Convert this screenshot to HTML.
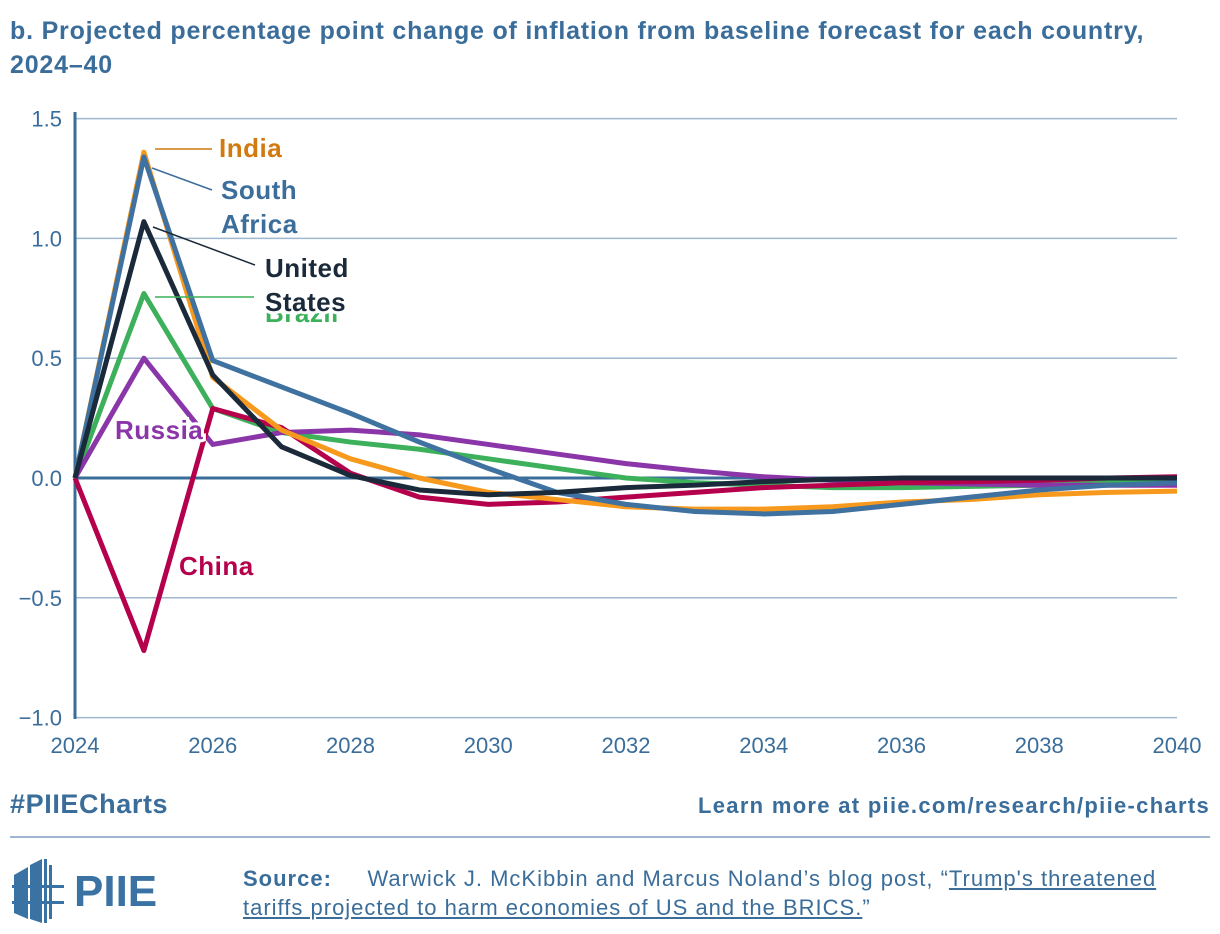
<!DOCTYPE html>
<html><head><meta charset="utf-8"><style>
body{margin:0;background:#fff;font-family:"Liberation Sans",sans-serif;}
#wrap{position:relative;width:1220px;height:934px;overflow:hidden;}
.t{position:absolute;color:#3a6d9a;white-space:nowrap;}
</style></head><body>
<div id="wrap">
<div class="t" style="left:10px;top:14px;font-size:25px;letter-spacing:0.8px;font-weight:bold;line-height:34px;">b. Projected percentage point change of inflation from baseline forecast for each country,<br>2024–40</div>
<svg id="chart" width="1220" height="780" style="position:absolute;left:0;top:0"></svg>
<div class="t" style="left:10px;top:789px;font-size:27px;letter-spacing:0.6px;font-weight:bold;">#PIIECharts</div>
<div class="t" style="right:10px;top:793px;font-size:22px;letter-spacing:1.3px;font-weight:bold;">Learn more at piie.com/research/piie-charts</div>
<div style="position:absolute;left:10px;top:836px;width:1200px;height:2px;background:#9fb8cf"></div>
<svg width="170" height="70" style="position:absolute;left:8px;top:855px">
<g fill="#3a73a3"><polygon points="6,20 20,12 20,64 6,58"/><polygon points="22,10 34,4 34,68 22,64"/><rect x="36" y="4" width="3" height="64"/><rect x="41" y="10" width="3" height="54"/>
<rect x="4" y="30" width="52" height="3"/><rect x="4" y="46" width="52" height="3"/></g>
<text x="66" y="51" font-size="44" font-weight="bold" fill="#3a73a3" font-family="Liberation Sans">PIIE</text></svg>
<div class="t" style="left:243px;top:864px;font-size:22px;letter-spacing:1px;line-height:29px;"><b>Source:</b>&nbsp;&nbsp;&nbsp;&nbsp; Warwick J. McKibbin and Marcus Noland’s blog post, “<u>Trump's threatened<br>tariffs projected to harm economies of US and the BRICS.</u>”</div>
</div>
<script>
const years=[2024,2025,2026,2027,2028,2029,2030,2031,2032,2033,2034,2035,2036,2037,2038,2039,2040];
const yTicks=[1.5,1.0,0.5,0.0,-0.5,-1.0];
const yTickLabels=["1.5","1.0","0.5","0.0","−0.5","−1.0"];
const xTicks=[2024,2026,2028,2030,2032,2034,2036,2038,2040];
const brazil=[0,0.77,0.29,0.19,0.15,0.12,0.08,0.04,0.0,-0.02,-0.03,-0.04,-0.04,-0.035,-0.03,-0.02,-0.015];
const russia=[0,0.50,0.14,0.19,0.20,0.18,0.14,0.10,0.06,0.03,0.005,-0.01,-0.02,-0.025,-0.03,-0.03,-0.03];
const china=[0,-0.72,0.29,0.21,0.02,-0.08,-0.11,-0.10,-0.08,-0.06,-0.04,-0.03,-0.02,-0.015,-0.01,0.0,0.005];
const india=[0,1.36,0.42,0.20,0.08,0.0,-0.06,-0.09,-0.12,-0.13,-0.13,-0.12,-0.10,-0.09,-0.07,-0.06,-0.055];
const southAfrica=[0,1.34,0.49,0.38,0.27,0.15,0.04,-0.06,-0.11,-0.14,-0.15,-0.14,-0.11,-0.08,-0.05,-0.03,-0.02];
const unitedStates=[0,1.07,0.43,0.13,0.01,-0.05,-0.07,-0.06,-0.04,-0.03,-0.015,-0.005,0.0,0.0,0.0,0.0,0.0];
const NS="http://www.w3.org/2000/svg",svg=document.getElementById('chart');
const X=v=>75+(v-2024)*(1102/16), Y=v=>478-v*239.6;
function el(t,a,p){const e=document.createElementNS(NS,t);for(const k in a)e.setAttribute(k,a[k]);(p||svg).appendChild(e);return e;}
yTicks.forEach((v,i)=>{
 const g=el('line',{x1:75,x2:1177,y1:Y(v),y2:Y(v),stroke:v===0?'#3a6d9a':'#9fb8cf','stroke-width':v===0?3:1.5});
 
 
 const t=el('text',{x:62,y:Y(v)+8,'text-anchor':'end','font-size':22,fill:'#3a6d9a'});t.textContent=yTickLabels[i];
 
 
});
xTicks.forEach(v=>{const t=el('text',{x:X(v),y:753,'text-anchor':'middle','font-size':22,fill:'#3a6d9a'});t.textContent=v;
 
 });
const ax=el('line',{x1:75,x2:75,y1:112,y2:719,stroke:'#3a6d9a','stroke-width':3});


const series=[[brazil,'#3cb05a','brazil'],[russia,'#8a35a8','russia'],[china,'#b5004c','china'],[india,'#f7991d','india'],[southAfrica,'#3f72a0','south-africa'],[unitedStates,'#1b2a3a','united-states']];
series.forEach(([d,c,n])=>{const p=el('polyline',{points:d.map((v,i)=>X(years[i])+','+Y(v)).join(' '),fill:'none',stroke:c,'stroke-width':5,'stroke-linejoin':'round'});
 
 });
function lbl(lines,x,y,c,n,lead){
 if(lead){const l=el('line',{x1:lead[0],y1:lead[1],x2:lead[2],y2:lead[3],stroke:c,'stroke-width':1.5});
 
 }
 lines.forEach((s,i)=>{const t=el('text',{x:x,y:y+i*34,'font-size':26,'letter-spacing':0.5,'font-weight':'bold',fill:c,stroke:'#fff','stroke-width':6,'paint-order':'stroke'});t.textContent=s;
 
 });
}
lbl(['Brazil'],265,322,'#3cb05a','brazil',[155,297,254,297]);
lbl(['India'],219,157,'#d27a0e','india',[155,149,212,149]);
lbl(['South','Africa'],221,199,'#3d6e9b','south-africa',[152,168,212,190]);
lbl(['United','States'],265,277,'#1b2a3a','united-states',[153,227,255,265]);
lbl(['Russia'],115,439,'#8a35a8','russia');
lbl(['China'],179,575,'#b5004c','china');
</script>
</body></html>
